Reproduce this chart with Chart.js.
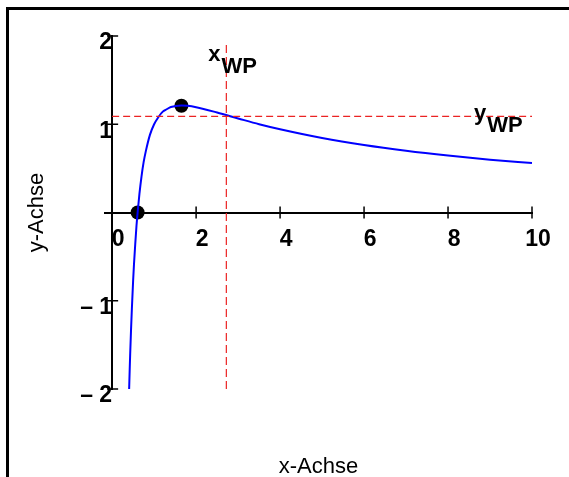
<!DOCTYPE html>
<html>
<head>
<meta charset="utf-8">
<script src="https://cdn.jsdelivr.net/npm/chart.js@4.4.1/dist/chart.umd.min.js"></script>
<style>
  html, body { margin: 0; padding: 0; background: #fff; }
  #wrap { position: relative; width: 569px; height: 477px; }
  #frame { position: absolute; left: 6px; top: 7px; right: 0; bottom: 0;
           border-left: 3px solid #000; border-top: 3px solid #000; pointer-events: none; }
</style>
</head>
<body>
<div id="wrap">
  <canvas id="chart" width="569" height="477"></canvas>
  <div id="frame"></div>
</div>
<script>
// Kurve
const curveX = [0.405, 0.42, 0.43, 0.45, 0.47, 0.5, 0.52, 0.55, 0.58, 0.607, 0.65, 0.7, 0.75, 0.8, 0.9,
                1.0, 1.1, 1.2, 1.3, 1.4, 1.65, 1.8, 2.0, 2.5, 3.0, 3.5, 4.0, 5.0, 6.0, 7.0, 8.0, 9.0, 10.0];
const curveY = [-2.0, -1.75, -1.6, -1.33, -1.09, -0.77, -0.59, -0.36, -0.15, 0, 0.21, 0.41, 0.57, 0.69, 0.88,
                1.0, 1.08, 1.14, 1.17, 1.195, 1.213, 1.209, 1.193, 1.133, 1.066, 1.0, 0.943, 0.844, 0.764, 0.699, 0.645, 0.599, 0.56];

// Nullstelle und Hochpunkt
const dotX = [0.607, 1.65];
const dotY = [0, 1.21];

// Wendepunkt-Linien
const wpX = 2.72;
const wpY = 1.09;
const hLineX = [0, 10];
const vLineY = [-2, 1.92];

// Achsen
const xTicks = [0, 2, 4, 6, 8, 10];
const xTickLabels = ['0', '2', '4', '6', '8', '10'];
const yTicks = [-2, -1, 0, 1, 2];
const yTickLabels = ['– 2', '– 1', '', '1', '2'];

const FONT = '"Liberation Sans", Arial, sans-serif';
const RED = 'rgb(235,35,35)';

const extras = {
    id: 'extras',
    beforeDatasetsDraw(chart) {
        const { ctx, scales: { x, y } } = chart;
        const x0 = x.getPixelForValue(0), y0 = y.getPixelForValue(0);
        ctx.save();
        ctx.strokeStyle = '#000';
        ctx.lineWidth = 1.5;
        xTicks.forEach(v => {
            if (v === 0) return;
            const px = x.getPixelForValue(v);
            ctx.beginPath(); ctx.moveTo(px, y0 - 6); ctx.lineTo(px, y0 + 6); ctx.stroke();
        });
        yTicks.forEach(v => {
            if (v === 0) return;
            const py = y.getPixelForValue(v);
            ctx.beginPath(); ctx.moveTo(x0 - 5, py); ctx.lineTo(x0 + 6, py); ctx.stroke();
        });
        ctx.restore();
    },
    afterDraw(chart) {
        const { ctx, chartArea: a, scales: { x, y } } = chart;
        ctx.save();
        ctx.fillStyle = '#000';

        // x_WP, y_WP
        const sub = (main, px, py) => {
            ctx.font = 'bold 22px ' + FONT;
            ctx.textAlign = 'left';
            ctx.textBaseline = 'alphabetic';
            ctx.fillText(main, px, py);
            ctx.fillText('WP', px + ctx.measureText(main).width + 1, py + 12);
        };
        sub('x', x.getPixelForValue(2.29), y.getPixelForValue(1.72));
        sub('y', x.getPixelForValue(8.62), y.getPixelForValue(1.05));

        // Achsentitel
        ctx.font = '22px ' + FONT;
        ctx.textAlign = 'center';
        ctx.fillText('x-Achse', (a.left + a.right) / 2, a.bottom + 84);
        ctx.translate(43, (a.top + a.bottom) / 2);
        ctx.rotate(-Math.PI / 2);
        ctx.fillText('y-Achse', 0, 0);
        ctx.restore();
    }
};

const tickFont = { family: FONT, size: 23, weight: 'bold' };

new Chart(document.getElementById('chart'), {
    type: 'scatter',
    data: {
        datasets: [
            {
                data: hLineX.map(v => ({ x: v, y: wpY })),
                showLine: true, borderColor: RED, borderWidth: 1.2, borderDash: [7, 4],
                pointRadius: 0
            },
            {
                data: vLineY.map(v => ({ x: wpX, y: v })),
                showLine: true, borderColor: RED, borderWidth: 1.2, borderDash: [8, 4],
                pointRadius: 0
            },
            {
                data: curveX.map((v, i) => ({ x: v, y: curveY[i] })),
                showLine: true, borderColor: '#0000ff', borderWidth: 2,
                cubicInterpolationMode: 'monotone', pointRadius: 0
            },
            {
                data: dotX.map((v, i) => ({ x: v, y: dotY[i] })),
                pointRadius: 7, pointBackgroundColor: '#000', pointBorderWidth: 0
            }
        ]
    },
    options: {
        responsive: false,
        animation: false,
        devicePixelRatio: 1,
        layout: { padding: { left: 105, right: 37, top: 36, bottom: 88 } },
        plugins: { legend: { display: false }, tooltip: { enabled: false } },
        scales: {
            x: {
                type: 'linear', min: -0.17, max: 10,
                position: { y: 0 },
                grid: { display: false, drawTicks: false },
                border: { display: true, color: '#000', width: 2 },
                afterBuildTicks: s => { s.ticks = xTicks.map(v => ({ value: v })); },
                afterFit: s => { s.height = 0; },
                ticks: {
                    font: tickFont, color: '#000', padding: 13, labelOffset: 6,
                    autoSkip: false, maxRotation: 0,
                    callback: v => xTickLabels[xTicks.indexOf(v)]
                }
            },
            y: {
                type: 'linear', min: -2, max: 2,
                position: { x: 0 },
                grid: { display: false, drawTicks: false },
                border: { display: true, color: '#000', width: 2 },
                afterBuildTicks: s => { s.ticks = yTicks.map(v => ({ value: v })); },
                afterFit: s => { s.width = 0; },
                ticks: {
                    font: tickFont, color: '#000', padding: 8, labelOffset: 7,
                    autoSkip: false,
                    callback: v => yTickLabels[yTicks.indexOf(v)]
                }
            }
        }
    },
    plugins: [extras]
});
</script>
</body>
</html>
